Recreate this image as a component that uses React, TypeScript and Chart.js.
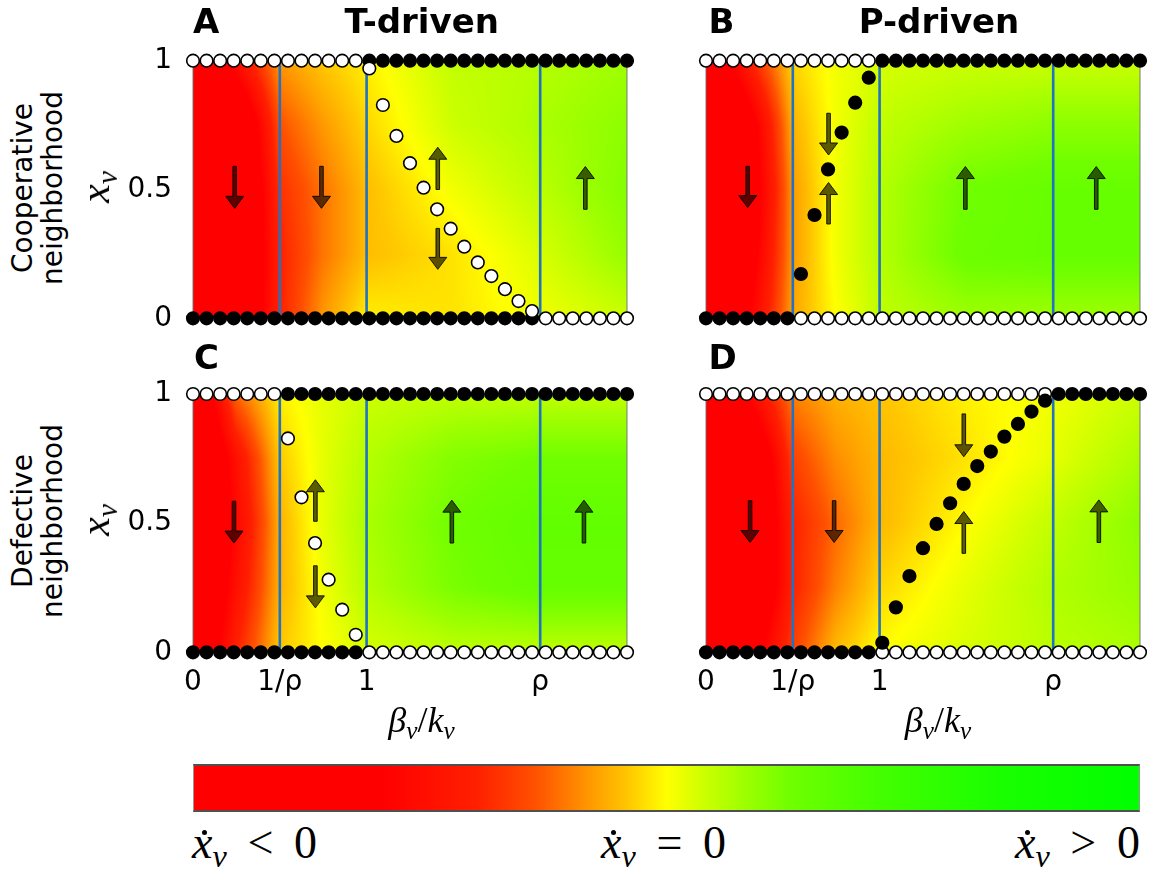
import React, { useEffect, useRef } from "react";
import { Chart, registerables } from "chart.js";
Chart.register(...registerables);

// ---------- data ----------
const betaGrid = [0, 0.0781, 0.1563, 0.2344, 0.3125, 0.3906, 0.4688, 0.5469, 0.625, 0.7031, 0.7813, 0.8594, 0.9375, 1.0156, 1.0938, 1.1719, 1.25, 1.3281, 1.4063, 1.4844, 1.5625, 1.6406, 1.7188, 1.7969, 1.875, 1.9531, 2.0313, 2.1094, 2.1875, 2.2656, 2.3438, 2.4219, 2.5];
const xTickValues = [0, 0.5, 1, 2];
const xTickLabels = ["0", "1/ρ", "1", "ρ"];
const yTickValues = [0, 0.5, 1];
const yTickLabels = ["0", "0.5", "1"];
const regionBounds = [0.5, 1, 2];
const plotEdges = [0, 2.5];

// boundary rows (1 = filled/stable, 0 = open/unstable)
const topRowA = [0,0,0,0,0,0,0,0,0,0,0,0,0,1,1,1,1,1,1,1,1,1,1,1,1,1,1,1,1,1,1,1,1];
const bottomRowA = [1,1,1,1,1,1,1,1,1,1,1,1,1,1,1,1,1,1,1,1,1,1,1,1,1,1,0,0,0,0,0,0,0];
const topRowB = [0,0,0,0,0,0,0,0,0,0,0,0,0,1,1,1,1,1,1,1,1,1,1,1,1,1,1,1,1,1,1,1,1];
const bottomRowB = [1,1,1,1,1,1,1,0,0,0,0,0,0,0,0,0,0,0,0,0,0,0,0,0,0,0,0,0,0,0,0,0,0];
const topRowC = [0,0,0,0,0,0,0,1,1,1,1,1,1,1,1,1,1,1,1,1,1,1,1,1,1,1,1,1,1,1,1,1,1];
const bottomRowC = [1,1,1,1,1,1,1,1,1,1,1,1,1,0,0,0,0,0,0,0,0,0,0,0,0,0,0,0,0,0,0,0,0];
const topRowD = [0,0,0,0,0,0,0,0,0,0,0,0,0,0,0,0,0,0,0,0,0,0,0,0,0,0,1,1,1,1,1,1,1];
const bottomRowD = [1,1,1,1,1,1,1,1,1,1,1,1,1,0,0,0,0,0,0,0,0,0,0,0,0,0,0,0,0,0,0,0,0];

// interior fixed points
const curveAX = [1.0156, 1.0938, 1.1719, 1.25, 1.3281, 1.4063, 1.4844, 1.5625, 1.6406, 1.7188, 1.7969, 1.875, 1.9531];
const curveAY = [0.97, 0.828, 0.708, 0.602, 0.507, 0.423, 0.348, 0.278, 0.217, 0.164, 0.113, 0.067, 0.028];
const curveBX = [0.5469, 0.625, 0.7031, 0.7813, 0.8594, 0.9375];
const curveBY = [0.172, 0.401, 0.578, 0.721, 0.837, 0.934];
const curveCX = [0.5469, 0.625, 0.7031, 0.7813, 0.8594, 0.9375];
const curveCY = [0.828, 0.6, 0.423, 0.281, 0.165, 0.068];
const curveDX = [1.0156, 1.0938, 1.1719, 1.25, 1.3281, 1.4063, 1.4844, 1.5625, 1.6406, 1.7188, 1.7969, 1.875, 1.9531];
const curveDY = [0.037, 0.174, 0.295, 0.403, 0.497, 0.577, 0.652, 0.721, 0.777, 0.835, 0.884, 0.932, 0.974];

// arrows: x position, tail y, tip y
const arrowXA = [0.24, 0.74, 1.41, 1.41, 2.26];
const arrowTailA = [0.59, 0.59, 0.5, 0.349, 0.423];
const arrowTipA = [0.427, 0.427, 0.664, 0.19, 0.589];
const arrowXB = [0.24, 0.706, 0.706, 1.494, 2.248];
const arrowTailB = [0.59, 0.796, 0.366, 0.423, 0.423];
const arrowTipB = [0.43, 0.634, 0.527, 0.589, 0.589];
const arrowXC = [0.236, 0.705, 0.705, 1.491, 2.252];
const arrowTailC = [0.585, 0.507, 0.335, 0.423, 0.423];
const arrowTipC = [0.423, 0.668, 0.172, 0.589, 0.589];
const arrowXD = [0.254, 0.738, 1.485, 1.485, 2.263];
const arrowTailD = [0.587, 0.587, 0.923, 0.383, 0.425];
const arrowTipD = [0.425, 0.425, 0.757, 0.545, 0.59];

// background field of dx/dt (0 = most negative, 0.5 = zero, 1 = most positive)
const heatX = [0, 0.25, 0.5, 0.75, 1, 1.5, 2, 2.5];
const heatY = [0, 0.25, 0.5, 0.75, 1];
const heatA = [
  [0.02, 0.05, 0.30, 0.42, 0.49, 0.48, 0.51, 0.54],
  [0.0, 0.02, 0.30, 0.39, 0.45, 0.48, 0.53, 0.59],
  [0.0, 0.02, 0.32, 0.39, 0.45, 0.51, 0.555, 0.61],
  [0.0, 0.05, 0.36, 0.42, 0.47, 0.54, 0.57, 0.60],
  [0.05, 0.25, 0.42, 0.46, 0.49, 0.55, 0.56, 0.58],
];
const heatB = [
  [0.02, 0.20, 0.43, 0.50, 0.55, 0.58, 0.58, 0.58],
  [0.0, 0.15, 0.42, 0.51, 0.56, 0.64, 0.65, 0.65],
  [0.0, 0.12, 0.42, 0.51, 0.56, 0.63, 0.65, 0.65],
  [0.0, 0.15, 0.44, 0.51, 0.55, 0.58, 0.60, 0.60],
  [0.05, 0.30, 0.47, 0.51, 0.53, 0.54, 0.54, 0.54],
];
const heatC = [
  [0.05, 0.30, 0.46, 0.50, 0.53, 0.55, 0.55, 0.55],
  [0.0, 0.25, 0.44, 0.51, 0.56, 0.62, 0.65, 0.65],
  [0.0, 0.22, 0.44, 0.52, 0.57, 0.63, 0.66, 0.66],
  [0.0, 0.25, 0.46, 0.52, 0.56, 0.61, 0.63, 0.63],
  [0.05, 0.38, 0.49, 0.52, 0.54, 0.55, 0.55, 0.55],
];
const heatD = [
  [0.02, 0.15, 0.34, 0.45, 0.50, 0.53, 0.555, 0.57],
  [0.0, 0.03, 0.30, 0.40, 0.47, 0.52, 0.565, 0.59],
  [0.0, 0.02, 0.30, 0.38, 0.445, 0.50, 0.55, 0.60],
  [0.0, 0.05, 0.34, 0.41, 0.445, 0.48, 0.52, 0.57],
  [0.05, 0.22, 0.40, 0.44, 0.455, 0.49, 0.51, 0.54],
];

// colormap
const cmapStops = [0, 0.2, 0.3, 0.36, 0.42, 0.46, 0.5, 0.54, 0.58, 0.63, 0.72, 0.85, 1];
const cmapColors = ["#ff0000", "#ff0000", "#ff2000", "#ff5000", "#ff9a00", "#ffc800", "#ffff00", "#ccff00", "#a0ff00", "#70ff00", "#45ff00", "#1aff00", "#00ff00"];

// ---------- helpers ----------
const parsed = cmapColors.map((c) => [parseInt(c.slice(1, 3), 16), parseInt(c.slice(3, 5), 16), parseInt(c.slice(5, 7), 16)]);
function cmap(t: number) {
  if (t <= cmapStops[0]) return parsed[0];
  for (let k = 0; k < cmapStops.length - 1; k++) {
    if (t <= cmapStops[k + 1]) {
      const f = (t - cmapStops[k]) / (cmapStops[k + 1] - cmapStops[k]);
      const a = parsed[k], b = parsed[k + 1];
      return [a[0] + (b[0] - a[0]) * f, a[1] + (b[1] - a[1]) * f, a[2] + (b[2] - a[2]) * f];
    }
  }
  return parsed[parsed.length - 1];
}
function seg(arr: number[], v: number) {
  let k = 0;
  while (k < arr.length - 2 && v > arr[k + 1]) k++;
  const f = Math.max(0, Math.min(1, (v - arr[k]) / (arr[k + 1] - arr[k])));
  return [k, f];
}
function sample(vals: number[][], x: number, y: number) {
  const [i, fx] = seg(heatX, x);
  const [j, fy] = seg(heatY, y);
  const a = vals[j][i] * (1 - fx) + vals[j][i + 1] * fx;
  const b = vals[j + 1][i] * (1 - fx) + vals[j + 1][i + 1] * fx;
  return a * (1 - fy) + b * fy;
}

type PanelCfg = {
  key: string; left: number; top: number; width: number; height: number;
  showX: boolean; showY: boolean; pad: { left: number; right: number; top: number; bottom: number };
  topRow: number[]; bottomRow: number[]; curveX: number[]; curveY: number[]; curveFilled: boolean;
  heat: number[][]; arrowX: number[]; arrowTail: number[]; arrowTip: number[];
};

const panels: PanelCfg[] = [
  { key: "A", left: 100, top: 20, width: 560, height: 340, showX: false, showY: true, pad: { left: 0, right: 33, top: 40.7, bottom: 41.7 },
    topRow: topRowA, bottomRow: bottomRowA, curveX: curveAX, curveY: curveAY, curveFilled: false, heat: heatA, arrowX: arrowXA, arrowTail: arrowTailA, arrowTip: arrowTipA },
  { key: "B", left: 680, top: 30, width: 470, height: 320, showX: false, showY: false, pad: { left: 26, right: 10, top: 30.7, bottom: 31.7 },
    topRow: topRowB, bottomRow: bottomRowB, curveX: curveBX, curveY: curveBY, curveFilled: true, heat: heatB, arrowX: arrowXB, arrowTail: arrowTailB, arrowTip: arrowTipB },
  { key: "C", left: 100, top: 350, width: 560, height: 410, showX: true, showY: true, pad: { left: 0, right: 33, top: 44, bottom: 47.7 },
    topRow: topRowC, bottomRow: bottomRowC, curveX: curveCX, curveY: curveCY, curveFilled: false, heat: heatC, arrowX: arrowXC, arrowTail: arrowTailC, arrowTip: arrowTipC },
  { key: "D", left: 680, top: 360, width: 470, height: 400, showX: true, showY: false, pad: { left: 26, right: 10, top: 34, bottom: 47.7 },
    topRow: topRowD, bottomRow: bottomRowD, curveX: curveDX, curveY: curveDY, curveFilled: true, heat: heatD, arrowX: arrowXD, arrowTail: arrowTailD, arrowTip: arrowTipD },
];

function drawArrow(ctx: CanvasRenderingContext2D, x: number, y0: number, y1: number) {
  const dir = Math.sign(y1 - y0);
  const headLen = 12, headW = 9, shaftW = 1.8;
  const yb = y1 - dir * headLen;
  ctx.beginPath();
  ctx.moveTo(x - shaftW, y0);
  ctx.lineTo(x + shaftW, y0);
  ctx.lineTo(x + shaftW, yb);
  ctx.lineTo(x + headW, yb);
  ctx.lineTo(x, y1);
  ctx.lineTo(x - headW, yb);
  ctx.lineTo(x - shaftW, yb);
  ctx.closePath();
  ctx.fillStyle = "rgba(0,0,0,0.64)";
  ctx.fill();
  ctx.strokeStyle = "rgba(0,0,0,0.85)";
  ctx.lineWidth = 1;
  ctx.stroke();
}

function Panel({ cfg }: { cfg: PanelCfg }) {
  const ref = useRef<HTMLCanvasElement>(null);
  useEffect(() => {
    if (!ref.current) return;
    const tickFont = { family: "'DejaVu Sans', sans-serif", size: 28 };
    const heatPlugin = {
      id: "heat" + cfg.key,
      beforeDatasetsDraw(chart: any) {
        const { left, top, right, bottom } = chart.chartArea;
        const xs = chart.scales.x, ys = chart.scales.y;
        const w = Math.round(right - left), h = Math.round(bottom - top);
        const off = document.createElement("canvas");
        off.width = w; off.height = h;
        const octx = off.getContext("2d")!;
        const img = octx.createImageData(w, h);
        for (let j = 0; j < h; j++) {
          const yv = ys.getValueForPixel(top + (j + 0.5) * (bottom - top) / h);
          for (let i = 0; i < w; i++) {
            const xv = xs.getValueForPixel(left + (i + 0.5) * (right - left) / w);
            const c = cmap(sample(cfg.heat, xv, yv));
            const p = (j * w + i) * 4;
            img.data[p] = c[0]; img.data[p + 1] = c[1]; img.data[p + 2] = c[2]; img.data[p + 3] = 255;
          }
        }
        octx.putImageData(img, 0, 0);
        const ctx = chart.ctx;
        ctx.save();
        ctx.drawImage(off, left, top, right - left, bottom - top);
        cfg.arrowX.forEach((ax, k) => {
          drawArrow(ctx, xs.getPixelForValue(ax), ys.getPixelForValue(cfg.arrowTail[k]), ys.getPixelForValue(cfg.arrowTip[k]));
        });
        ctx.restore();
      },
    };
    const dot = { pointRadius: 6.3, pointBorderColor: "#000", pointBorderWidth: 1.6, showLine: false, clip: false as any };
    const datasets: any[] = [
      { ...dot, order: 0, data: cfg.curveX.map((x, i) => ({ x, y: cfg.curveY[i] })), pointBackgroundColor: cfg.curveFilled ? "#000" : "#fff" },
      { ...dot, order: 1, data: betaGrid.map((x) => ({ x, y: 1 })), pointBackgroundColor: cfg.topRow.map((f) => (f ? "#000" : "#fff")) },
      { ...dot, order: 1, data: betaGrid.map((x) => ({ x, y: 0 })), pointBackgroundColor: cfg.bottomRow.map((f) => (f ? "#000" : "#fff")) },
      ...regionBounds.map((b) => ({ order: 2, data: [{ x: b, y: 0 }, { x: b, y: 1 }], showLine: true, borderColor: "#1f72c4", borderWidth: 2.6, pointRadius: 0, clip: false })),
      ...plotEdges.map((b) => ({ order: 3, data: [{ x: b, y: 0 }, { x: b, y: 1 }], showLine: true, borderColor: "rgba(110,110,110,0.9)", borderWidth: 1, pointRadius: 0, clip: false })),
    ];
    const chart = new Chart(ref.current, {
      type: "scatter",
      data: { datasets },
      options: {
        animation: false,
        responsive: false,
        events: [],
        layout: { padding: cfg.pad },
        plugins: { legend: { display: false }, tooltip: { enabled: false } },
        scales: {
          x: {
            type: "linear", min: 0, max: 2.5, display: cfg.showX,
            afterBuildTicks: (s: any) => { s.ticks = xTickValues.map((v) => ({ value: v })); },
            afterFit: (s: any) => { s.height = cfg.showX ? 60 : 0; },
            ticks: { callback: (_v: any, i: number) => xTickLabels[i], font: tickFont, color: "#000", padding: 14, autoSkip: false, maxRotation: 0 },
            grid: { display: false, drawTicks: false },
            border: { display: false },
          },
          y: {
            type: "linear", min: 0, max: 1, display: cfg.showY,
            afterBuildTicks: (s: any) => { s.ticks = yTickValues.map((v) => ({ value: v })); },
            afterFit: (s: any) => { s.width = cfg.showY ? 93 : 0; },
            ticks: { callback: (_v: any, i: number) => yTickLabels[i], font: tickFont, color: "#000", padding: 21 },
            grid: { display: false, drawTicks: false },
            border: { display: false },
          },
        },
      } as any,
      plugins: [heatPlugin],
    });
    return () => chart.destroy();
  }, [cfg]);
  return (
    <canvas ref={ref} width={cfg.width} height={cfg.height}
      style={{ position: "absolute", left: cfg.left, top: cfg.top, width: cfg.width, height: cfg.height }} />
  );
}

const serif = "'Liberation Serif', 'Times New Roman', serif";
const sans = "'DejaVu Sans', sans-serif";

const Sub = ({ children }: { children: any }) => (
  <span style={{ fontSize: "0.7em", position: "relative", top: "0.28em", fontStyle: "italic" }}>{children}</span>
);
const XDot = () => (
  <span style={{ position: "relative", fontStyle: "italic" }}>
    x
    <span style={{ position: "absolute", left: "0.21em", top: "0.29em", width: "0.11em", height: "0.11em", borderRadius: "50%", background: "#000" }} />
  </span>
);

function BarLabel({ rel, style }: { rel: string; style: any }) {
  return (
    <div style={{ position: "absolute", top: 819.8, fontFamily: serif, fontSize: 46, lineHeight: 1, whiteSpace: "nowrap", ...style }}>
      <XDot /><Sub>v</Sub>
      <span style={{ margin: "0 0.45em" }}>{rel}</span>0
    </div>
  );
}

export default function App() {
  const gradient = `linear-gradient(to right, ${cmapColors.map((c, i) => `${c} ${(cmapStops[i] * 100).toFixed(1)}%`).join(", ")})`;
  const bold = { position: "absolute" as const, fontFamily: sans, fontWeight: "bold" as const, fontSize: 34, lineHeight: 1, whiteSpace: "nowrap" as const };
  const rotated = (cx: number, cy: number, extra: any) => ({
    position: "absolute" as const, left: cx, top: cy, transform: "translate(-50%, -50%) rotate(-90deg)", whiteSpace: "nowrap" as const, textAlign: "center" as const, ...extra,
  });
  return (
    <div style={{ position: "fixed", left: 0, top: 0, width: 1150, height: 869, background: "#fff", overflow: "hidden", color: "#000" }}>
      {panels.map((p) => <Panel key={p.key} cfg={p} />)}

      <div style={{ ...bold, left: 193, top: 3.5 }}>A</div>
      <div style={{ ...bold, left: 421.7, top: 3.5, transform: "translateX(-50%)" }}>T-driven</div>
      <div style={{ ...bold, left: 708.5, top: 3.5 }}>B</div>
      <div style={{ ...bold, left: 939, top: 3.5, transform: "translateX(-50%)" }}>P-driven</div>
      <div style={{ ...bold, left: 194, top: 339.5 }}>C</div>
      <div style={{ ...bold, left: 708.5, top: 339.5 }}>D</div>

      <div style={rotated(38, 188, { fontFamily: sans, fontSize: 28, lineHeight: "30px" })}>Cooperative<br />neighborhood</div>
      <div style={rotated(38, 521, { fontFamily: sans, fontSize: 28, lineHeight: "30px" })}>Defective<br />neighborhood</div>
      <div style={rotated(95, 187, { fontFamily: serif, fontSize: 42, lineHeight: 1, fontStyle: "italic" })}>x<Sub>v</Sub></div>
      <div style={rotated(95, 520, { fontFamily: serif, fontSize: 42, lineHeight: 1, fontStyle: "italic" })}>x<Sub>v</Sub></div>

      <div style={{ position: "absolute", left: 421.5, top: 701.9, transform: "translateX(-50%)", fontFamily: serif, fontSize: 36, lineHeight: 1, fontStyle: "italic", whiteSpace: "nowrap" }}>
        β<Sub>v</Sub><span style={{ fontStyle: "normal" }}>/</span>k<Sub>v</Sub>
      </div>
      <div style={{ position: "absolute", left: 938, top: 701.9, transform: "translateX(-50%)", fontFamily: serif, fontSize: 36, lineHeight: 1, fontStyle: "italic", whiteSpace: "nowrap" }}>
        β<Sub>v</Sub><span style={{ fontStyle: "normal" }}>/</span>k<Sub>v</Sub>
      </div>

      <div style={{ position: "absolute", left: 193, top: 764, width: 947, height: 48, boxSizing: "border-box", background: gradient,
        borderTop: "2px solid #505050", borderBottom: "2px solid #505050", borderLeft: "1px solid #999", borderRight: "1px solid #999" }} />
      <BarLabel rel="<" style={{ left: 192 }} />
      <BarLabel rel="=" style={{ left: 601 }} />
      <BarLabel rel=">" style={{ right: 10 }} />
    </div>
  );
}
